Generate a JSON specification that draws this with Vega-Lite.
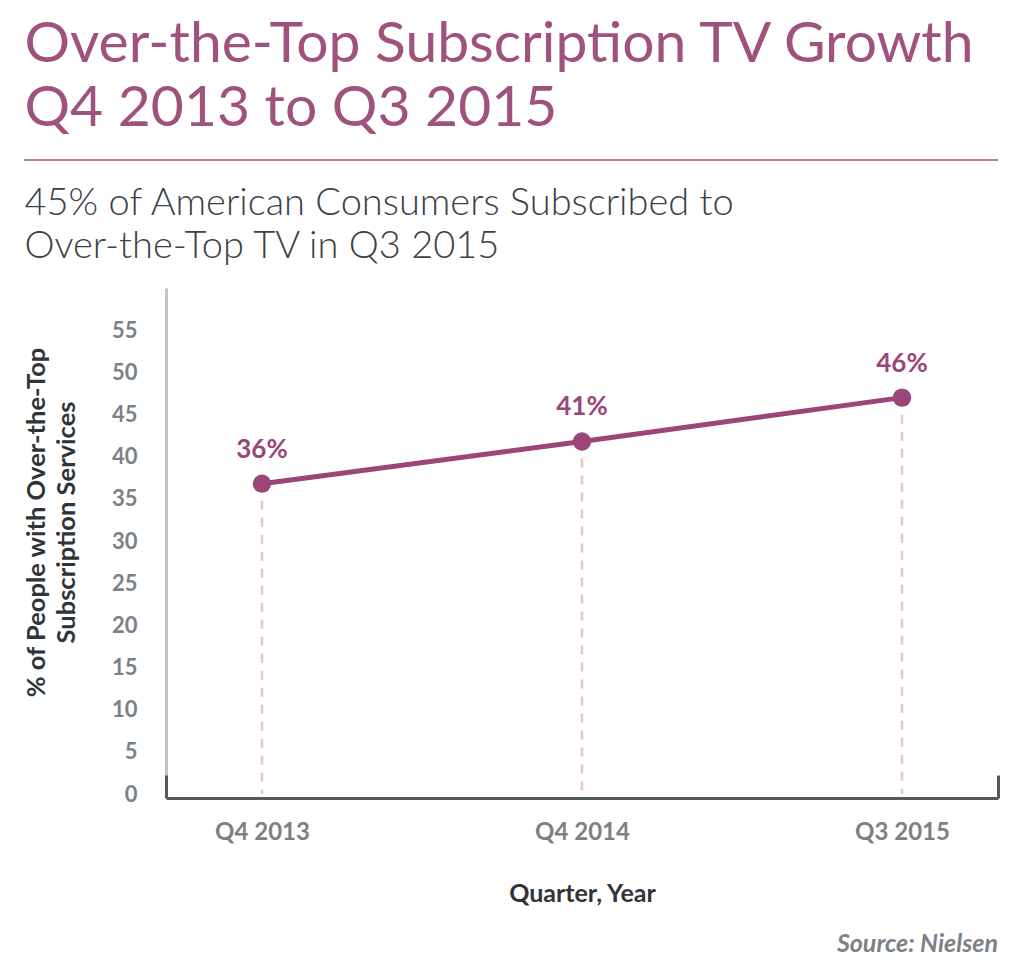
{
  "$schema": "https://vega.github.io/schema/vega-lite/v6.json",
  "background": "white",
  "padding": {"left": 24, "top": 16, "right": 20, "bottom": 10},
  "config": {"view": {"stroke": null}, "font": "Lato"},
  "title": {
    "text": ["Over-the-Top Subscription TV Growth", "Q4 2013 to Q3 2015"],
    "anchor": "start",
    "frame": "bounds",
    "color": "#a0527f",
    "font": "Lato",
    "fontWeight": "normal",
    "fontSize": 57,
    "lineHeight": 64,
    "offset": 22
  },
  "align": "none",
  "spacing": 26,
  "vconcat": [
    {
      "align": "none",
      "spacing": -117,
      "vconcat": [
        {
          "width": 974,
          "height": 1,
          "data": {"values": []},
          "mark": "point",
          "encoding": {
            "x": {
              "field": "idx",
              "type": "quantitative",
              "scale": {"domain": [0, 1]},
              "axis": {
                "title": null,
                "labels": false,
                "ticks": false,
                "grid": false,
                "domainColor": "#a0527f",
                "domainWidth": 1.5,
                "translate": -142,
                "offset": 141
              }
            }
          }
        },
        {
          "width": 832,
          "height": 506,
          "title": {
            "text": ["45% of American Consumers Subscribed to", "Over-the-Top TV in Q3 2015"],
            "anchor": "start",
            "frame": "bounds",
            "color": "#3c4146",
            "font": "Lato",
            "fontWeight": 300,
            "fontSize": 38,
            "lineHeight": 43,
            "offset": 22
          },
          "data": {
            "values": [
              {"idx": 0, "quarter": "Q4 2013", "pct": 36.8, "label": "36%"},
              {"idx": 1, "quarter": "Q4 2014", "pct": 41.8, "label": "41%"},
              {"idx": 2, "quarter": "Q3 2015", "pct": 47.0, "label": "46%"}
            ]
          },
          "encoding": {
            "x": {
              "field": "idx",
              "type": "quantitative",
              "scale": {"domain": [-0.3, 2.3], "nice": false, "zero": false},
              "axis": {
                "values": [-0.3, 0, 1, 2, 2.3],
                "labelExpr": "datum.value == 0 ? 'Q4 2013' : datum.value == 1 ? 'Q4 2014' : datum.value == 2 ? 'Q3 2015' : ''",
                "grid": false,
                "zindex": 1,
                "offset": 4,
                "domainColor": "#55595e",
                "domainWidth": 3,
                "tickColor": "#55595e",
                "tickWidth": 3,
                "tickSize": -23,
                "tickOpacity": {"condition": {"test": "datum.value < -0.1 || datum.value > 2.1", "value": 1}, "value": 0},
                "labelFont": "Lato",
                "labelFontWeight": "bold",
                "labelFontSize": 24,
                "labelColor": "#7c8188",
                "labelPadding": 45,
                "labelFlush": false,
                "title": "Quarter, Year",
                "titleFont": "Lato",
                "titleFontWeight": "bold",
                "titleFontSize": 25,
                "titleColor": "#2f3438",
                "titlePadding": 37
              }
            },
            "y": {
              "field": "pct",
              "type": "quantitative",
              "scale": {"domain": [0, 60], "nice": false},
              "axis": {
                "values": [0, 5, 10, 15, 20, 25, 30, 35, 40, 45, 50, 55],
                "grid": false,
                "ticks": false,
                "domainColor": "#c3c3c3",
                "domainWidth": 3,
                "labelFont": "Lato",
                "labelFontWeight": "bold",
                "labelFontSize": 22,
                "labelColor": "#7c8188",
                "labelPadding": 29,
                "title": ["% of People with Over-the-Top", "Subscription Services"],
                "titleFont": "Lato",
                "titleFontWeight": "bold",
                "titleFontSize": 25.5,
                "titleColor": "#2f3438",
                "titleLineHeight": 30,
                "titlePadding": 32,
                "titleY": 234
              }
            }
          },
          "layer": [
            {
              "mark": {"type": "rule", "color": "#e6c4d2", "strokeWidth": 2.5, "strokeDash": [9, 8]},
              "encoding": {"y2": {"datum": 0}}
            },
            {
              "mark": {"type": "line", "color": "#9b4579", "strokeWidth": 5}
            },
            {
              "mark": {"type": "point", "filled": true, "color": "#9b4579", "opacity": 1, "size": 340}
            },
            {
              "mark": {"type": "text", "color": "#9b4579", "font": "Lato", "fontWeight": "bold", "fontSize": 26, "dy": -34},
              "encoding": {"text": {"field": "label"}}
            }
          ]
        }
      ]
    },
    {
      "width": 832,
      "height": 1,
      "data": {"values": []},
      "mark": "point",
      "encoding": {},
      "title": {
        "text": "Source: Nielsen",
        "anchor": "end",
        "frame": "group",
        "color": "#7c8188",
        "font": "Lato",
        "fontWeight": "bold",
        "fontStyle": "italic",
        "fontSize": 25,
        "offset": -10
      }
    }
  ]
}
